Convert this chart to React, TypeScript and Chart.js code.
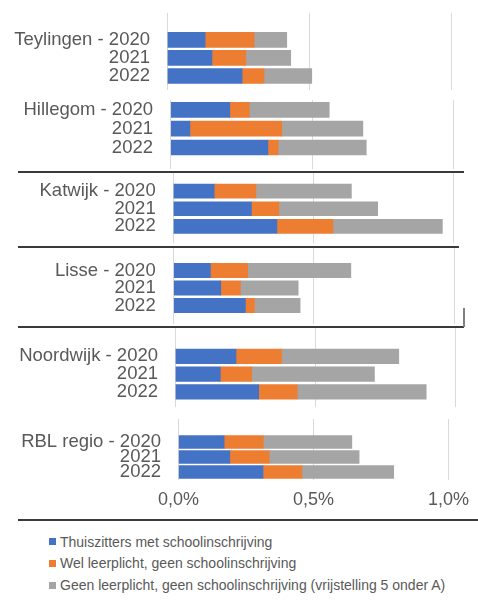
import React, { useEffect, useRef } from 'react';
import { Chart, registerables } from 'chart.js';

Chart.register(...registerables);

// ---- data ----
const gemeenten = ['Teylingen', 'Hillegom', 'Katwijk', 'Lisse', 'Noordwijk', 'RBL regio'];
const jaren = ['2020', '2021', '2022'];
const seriesNames = [
  'Thuiszitters met schoolinschrijving',
  'Wel leerplicht, geen schoolinschrijving',
  'Geen leerplicht, geen schoolinschrijving (vrijstelling 5 onder A)',
];
// values in % per gemeente, per year 2020/2021/2022
const thuiszitters = [
  [0.133, 0.157, 0.263],
  [0.209, 0.068, 0.344],
  [0.146, 0.279, 0.370],
  [0.131, 0.168, 0.256],
  [0.217, 0.161, 0.298],
  [0.169, 0.190, 0.313],
];
const welLeerplicht = [
  [0.172, 0.119, 0.077],
  [0.069, 0.325, 0.036],
  [0.149, 0.098, 0.200],
  [0.133, 0.070, 0.032],
  [0.163, 0.112, 0.138],
  [0.145, 0.146, 0.144],
];
const geenLeerplicht = [
  [0.115, 0.158, 0.168],
  [0.283, 0.287, 0.312],
  [0.341, 0.353, 0.391],
  [0.368, 0.206, 0.163],
  [0.419, 0.439, 0.461],
  [0.328, 0.333, 0.340],
];
const xTickValues = [0, 0.5, 1.0];

// ---- styling / layout ----
const colors = ['#4472C4', '#ED7D31', '#A5A5A5'];
const W = 478;
const FONT = "'Liberation Sans', Arial, sans-serif";
const TEXT = '#595959';
const panelLayout = [
  { top: 13, bottom: 90, c0: 39.8, pitch: 18.1, thick: 15, zero: 167.3, one: 451.7, labelEnd: 150 },
  { top: 100, bottom: 169, c0: 109.8, pitch: 18.85, thick: 15, zero: 170.7, one: 453.3, labelEnd: 153 },
  { top: 173, bottom: 243, c0: 191.2, pitch: 17.55, thick: 14, zero: 173.3, one: 453.3, labelEnd: 155.7 },
  { top: 248, bottom: 324, c0: 270.5, pitch: 17.5, thick: 14.4, zero: 173.7, one: 454, labelEnd: 155.7 },
  { top: 328, bottom: 406.7, c0: 356.2, pitch: 17.75, thick: 14.5, zero: 175.3, one: 455, labelEnd: 158 },
  { top: 419, bottom: 480, c0: 442, pitch: 15, thick: 12.6, zero: 178.5, one: 455, labelEnd: 161 },
];

const PAD = 42;
const AXIS_H = 35;

function Panel({ index }: { index: number }) {
  const ref = useRef<HTMLCanvasElement>(null);
  const L = panelLayout[index];
  const isLast = index === gemeenten.length - 1;
  const canvasTop = L.top - PAD;
  const height = Math.round(L.bottom - L.top + PAD + (isLast ? AXIS_H : PAD));

  useEffect(() => {
    const series = [thuiszitters, welLeerplicht, geenLeerplicht];
    const yMin = -(L.c0 - L.top) / L.pitch;
    const yMax = yMin + (L.bottom - L.top) / L.pitch;
    const chart = new Chart(ref.current as HTMLCanvasElement, {
      type: 'bar',
      data: {
        datasets: series.map((s, k) => ({
          label: seriesNames[k],
          data: s[index].map((v, i) => ({ x: v, y: i })),
          backgroundColor: colors[k],
          borderWidth: 0,
          barThickness: L.thick,
        })),
      },
      options: {
        indexAxis: 'y',
        responsive: false,
        animation: false,
        events: [],
        layout: {
          padding: { top: PAD, bottom: isLast ? 0 : PAD, left: 0, right: W - L.one },
        },
        plugins: { legend: { display: false }, tooltip: { enabled: false } },
        scales: {
          x: {
            type: 'linear',
            stacked: true,
            min: 0,
            max: 1,
            bounds: 'data',
            offset: false,
            border: { display: false },
            grid: { color: '#D9D9D9', drawTicks: false, lineWidth: 1, offset: false },
            ticks: {
              display: isLast,
              padding: 9,
              maxRotation: 0,
              autoSkip: false,
              color: TEXT,
              font: { family: FONT, size: 18 },
              callback: (v: any) => Number(v).toFixed(1).replace('.', ',') + '%',
            },
            afterBuildTicks: (s: any) => {
              s.ticks = xTickValues.map((v) => ({ value: v }));
            },
            afterFit: (s: any) => {
              s.height = isLast ? AXIS_H : 0;
            },
          },
          y: {
            type: 'linear',
            stacked: true,
            reverse: true,
            offset: false,
            min: yMin,
            max: yMax,
            bounds: 'data',
            border: { display: false },
            grid: { display: false, drawTicks: false, offset: false },
            ticks: {
              padding: L.zero - L.labelEnd,
              autoSkip: false,
              color: TEXT,
              font: { family: FONT, size: 18.5 },
              callback: (v: any) => {
                const i = Math.round(Number(v));
                return i === 0 ? `${gemeenten[index]} - ${jaren[0]}` : jaren[i];
              },
            },
            afterBuildTicks: (s: any) => {
              s.ticks = jaren.map((_, i) => ({ value: i }));
            },
            afterFit: (s: any) => {
              s.width = L.zero;
            },
          },
        },
      },
    } as any);
    return () => chart.destroy();
  }, []);

  return (
    <canvas
      ref={ref}
      width={W}
      height={height}
      style={{ position: 'absolute', left: 0, top: canvasTop, width: W, height }}
    />
  );
}

function HLine({ top, left, width }: { top: number; left: number; width: number }) {
  return (
    <div
      style={{
        position: 'absolute',
        top,
        left,
        width,
        height: 2,
        background: '#3a3a3a',
      }}
    />
  );
}

export default function App() {
  const legendRows = [541.7, 563.3, 585];
  return (
    <div
      style={{
        position: 'absolute',
        left: 0,
        top: 0,
        width: W,
        height: 602,
        background: '#fff',
        overflow: 'hidden',
        fontFamily: FONT,
      }}
    >
      {gemeenten.map((_, i) => (
        <Panel key={i} index={i} />
      ))}
      <HLine top={170.5} left={18} width={446} />
      <HLine top={245.5} left={18} width={441} />
      <HLine top={325.5} left={18} width={446} />
      <div style={{ position: 'absolute', left: 463, top: 308, width: 2, height: 19, background: '#808080' }} />
      <HLine top={518.5} left={18} width={460} />
      {seriesNames.map((name, k) => (
        <div
          key={k}
          style={{
            position: 'absolute',
            left: 49,
            top: legendRows[k] - 10,
            height: 20,
            display: 'flex',
            alignItems: 'center',
            whiteSpace: 'nowrap',
            fontSize: 14,
            color: TEXT,
          }}
        >
          <span style={{ display: 'inline-block', width: 7, height: 7, background: colors[k], marginRight: 4 }} />
          <span>{name}</span>
        </div>
      ))}
    </div>
  );
}
